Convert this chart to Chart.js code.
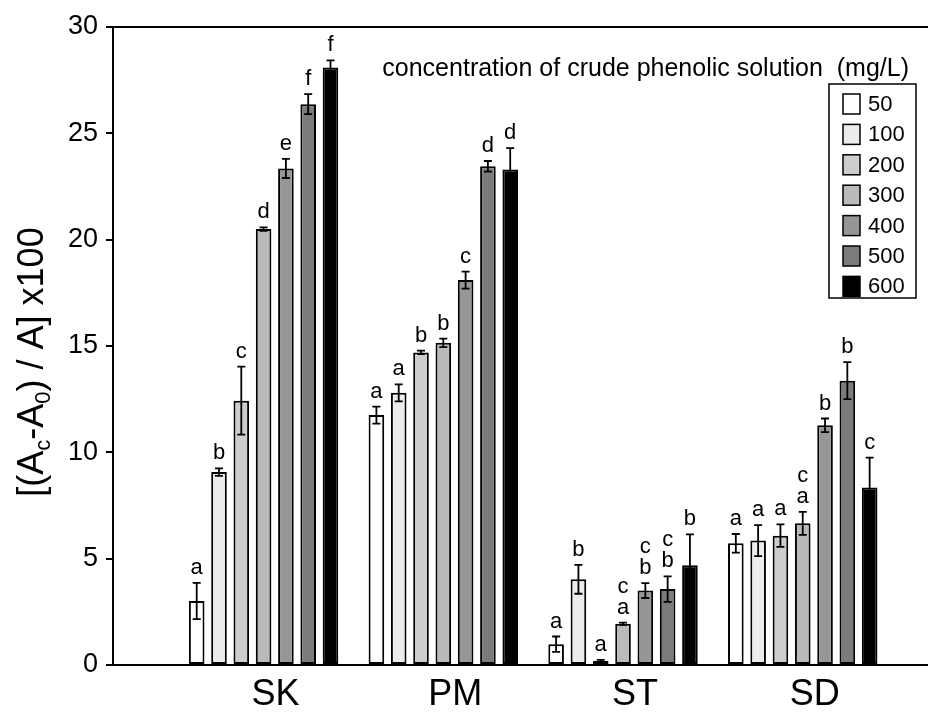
<!DOCTYPE html>
<html><head><meta charset="utf-8">
<script src="https://cdn.jsdelivr.net/npm/chart.js@4/dist/chart.umd.min.js"></script>
<style>html,body{margin:0;padding:0;background:#fff;}</style>
</head><body>
<canvas id="c" width="928" height="713"></canvas>
<script>
const FONT = '"Liberation Sans", Arial, Helvetica, sans-serif';

const categories = ['SK', 'PM', 'ST', 'SD'];
const concentrations = ['50', '100', '200', '300', '400', '500', '600'];
const barColors = ['#ffffff', '#ececec', '#cdcdcd', '#bababa', '#969696', '#7b7b7b', '#000000'];

// mean values per concentration, in category order SK, PM, ST, SD
const c50  = [3.01, 11.75, 0.98, 5.72];
const c100 = [9.07, 12.80, 4.03, 5.85];
const c200 = [12.43, 14.70, 0.19, 6.08];
const c300 = [20.50, 15.15, 1.94, 6.66];
const c400 = [23.35, 18.10, 3.50, 11.27];
const c500 = [26.37, 23.45, 3.57, 13.37];
const c600 = [28.10, 23.30, 4.69, 8.35];

// error (±) per concentration
const e50  = [0.85, 0.40, 0.36, 0.44];
const e100 = [0.18, 0.40, 0.68, 0.73];
const e200 = [1.60, 0.08, 0.05, 0.53];
const e300 = [0.08, 0.20, 0.05, 0.54];
const e400 = [0.45, 0.40, 0.35, 0.32];
const e500 = [0.47, 0.25, 0.60, 0.87];
const e600 = [0.33, 1.00, 1.45, 1.40];

// significance letters (top line first)
const l50  = ['a', 'a', 'a', 'a'];
const l100 = ['b', 'a', 'b', 'a'];
const l200 = ['c', 'b', 'a', 'a'];
const l300 = ['d', 'b', 'c\na', 'c\na'];
const l400 = ['e', 'c', 'c\nb', 'b'];
const l500 = ['f', 'd', 'c\nb', 'b'];
const l600 = ['f', 'd', 'b', 'c'];

const yTicks = [0, 5, 10, 15, 20, 25, 30];
const legendTitle = 'concentration of crude phenolic solution  (mg/L)';

const seriesValues = [c50, c100, c200, c300, c400, c500, c600];
const seriesErrors = [e50, e100, e200, e300, e400, e500, e600];
const seriesLetters = [l50, l100, l200, l300, l400, l500, l600];

const datasets = concentrations.map((c, k) => ({
  label: c,
  data: seriesValues[k].map((v, i) => ({ x: i, y: v })),
  errors: seriesErrors[k],
  letters: seriesLetters[k],
  backgroundColor: barColors[k],
  borderColor: '#000',
  borderWidth: 2,
  borderSkipped: false,
  barPercentage: 0.7,
  categoryPercentage: 0.8687
}));

const decorPlugin = {
  id: 'decor',
  afterDatasetsDraw(chart) {
    const ctx = chart.ctx, ys = chart.scales.y;
    chart.data.datasets.forEach((ds, di) => {
      const meta = chart.getDatasetMeta(di);
      meta.data.forEach((bar, i) => {
        const v = ds.data[i].y, e = ds.errors[i];
        const yt = ys.getPixelForValue(v + e), yb = ys.getPixelForValue(Math.max(0, v - e));
        ctx.save();
        ctx.strokeStyle = '#000'; ctx.lineWidth = 1.8;
        ctx.beginPath();
        ctx.moveTo(bar.x, yb); ctx.lineTo(bar.x, yt);
        ctx.moveTo(bar.x - 4, yt); ctx.lineTo(bar.x + 4, yt);
        ctx.moveTo(bar.x - 4, yb); ctx.lineTo(bar.x + 4, yb);
        ctx.stroke();
        const lines = ds.letters[i].split('\n');
        ctx.font = '22px ' + FONT;
        ctx.textAlign = 'center'; ctx.textBaseline = 'alphabetic'; ctx.fillStyle = '#000';
        let base = yt - 9;
        for (let k = lines.length - 1; k >= 0; k--) { ctx.fillText(lines[k], bar.x, base); base -= 21; }
        ctx.restore();
      });
    });
  },
  afterDraw(chart) {
    const ctx = chart.ctx, a = chart.chartArea;
    ctx.save();
    // top frame line
    ctx.strokeStyle = '#000'; ctx.lineWidth = 2;
    ctx.beginPath(); ctx.moveTo(a.left - 1, a.top); ctx.lineTo(a.right, a.top); ctx.stroke();

    // y-axis title with subscripts
    const big = 36, small = 22;
    const parts = [['[(A', 0], ['c', 1], ['-A', 0], ['0', 1], [') / A] x100', 0]];
    let total = 0;
    parts.forEach(p => { ctx.font = (p[1] ? small : big) + 'px ' + FONT; total += ctx.measureText(p[0]).width; });
    ctx.translate(43, (a.top + a.bottom) / 2 + 16);
    ctx.rotate(-Math.PI / 2);
    ctx.fillStyle = '#000'; ctx.textAlign = 'left'; ctx.textBaseline = 'alphabetic';
    let x = -total / 2;
    parts.forEach(p => {
      ctx.font = (p[1] ? small : big) + 'px ' + FONT;
      ctx.fillText(p[0], x, p[1] ? 7 : 0);
      x += ctx.measureText(p[0]).width;
    });
    ctx.restore();

    // legend title
    ctx.save();
    ctx.fillStyle = '#000'; ctx.font = '25px ' + FONT;
    ctx.textAlign = 'right'; ctx.textBaseline = 'alphabetic';
    ctx.fillText(legendTitle, 909, 76);

    // legend box
    const bx = 829, by = 84, bw = 87, bh = 214;
    ctx.fillStyle = '#fff'; ctx.fillRect(bx, by, bw, bh);
    ctx.strokeStyle = '#000'; ctx.lineWidth = 1.5;
    ctx.strokeRect(bx, by, bw, bh);
    ctx.font = '22px ' + FONT; ctx.textAlign = 'left'; ctx.textBaseline = 'middle';
    chart.data.datasets.forEach((ds, k) => {
      const cy = 104 + k * 30.4;
      ctx.fillStyle = ds.backgroundColor;
      ctx.fillRect(843, cy - 10, 17, 20);
      ctx.strokeStyle = '#000'; ctx.lineWidth = 1.5;
      ctx.strokeRect(843, cy - 10, 17, 20);
      ctx.fillStyle = '#000';
      ctx.fillText(ds.label, 868, cy + 1);
    });
    ctx.restore();
  }
};

new Chart(document.getElementById('c'), {
  type: 'bar',
  data: { datasets },
  options: {
    responsive: false,
    animation: false,
    devicePixelRatio: 1,
    layout: { padding: { top: 27, right: 0, left: 0, bottom: 0 } },
    plugins: { legend: { display: false }, tooltip: { enabled: false } },
    scales: {
      x: {
        type: 'linear',
        offset: false,
        min: -0.838,
        max: 3.697,
        afterBuildTicks: (s) => { s.ticks = categories.map((c, i) => ({ value: i })); },
        afterFit: (s) => { s.height = 48; },
        grid: { display: false, drawTicks: false },
        border: { display: true, color: '#000', width: 2 },
        ticks: {
          callback: (v) => categories[v] ?? '',
          font: { family: FONT, size: 36 },
          color: '#000',
          padding: 8,
          labelOffset: 12,
          maxRotation: 0,
          autoSkip: false
        }
      },
      y: {
        min: 0,
        max: 30,
        afterBuildTicks: (s) => { s.ticks = yTicks.map(v => ({ value: v })); },
        afterFit: (s) => { s.width = 113; },
        grid: { display: true, drawOnChartArea: false, drawTicks: true, tickLength: 7, color: '#000', lineWidth: 2 },
        border: { display: true, color: '#000', width: 2 },
        ticks: { font: { family: FONT, size: 27 }, color: '#000', padding: 8 }
      }
    }
  },
  plugins: [decorPlugin]
});
</script>
</body></html>
